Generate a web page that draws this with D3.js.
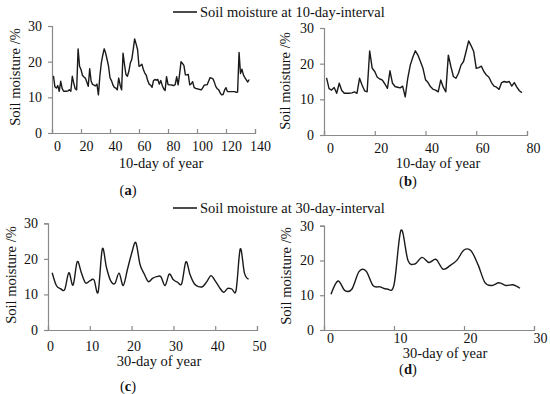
<!DOCTYPE html>
<html><head><meta charset="utf-8">
<script src="https://cdn.jsdelivr.net/npm/d3@7/dist/d3.min.js"></script>
<style>body{margin:0;background:#fff}svg{display:block}text{font-family:"Liberation Serif","Times New Roman",serif;fill:#111}</style>
</head><body><svg id="c" width="550" height="394"></svg>
<script>
// 10-day interval series (panel a: full record, panel b: first part)
const tenDayA = [16.0,13.0,12.6,13.3,11.7,14.5,12.5,11.7,11.7,11.7,11.8,12.1,11.7,15.9,14.0,12.4,12.1,23.6,18.7,17.8,
16.2,15.7,15.4,14.3,13.1,18.0,14.5,13.6,13.4,13.2,13.7,10.7,15.9,19.6,21.8,23.6,22.4,20.6,18.7,15.5,
14.7,13.5,12.8,12.6,12.1,15.4,13.4,12.1,22.4,19.2,16.4,15.9,17.3,19.6,20.6,23.4,26.4,25.0,23.4,18.7,
18.9,19.3,17.8,16.8,16.2,14.7,13.7,13.4,12.8,14.7,15.0,14.8,15.0,13.7,14.7,13.4,12.4,11.9,15.8,13.6,
13.5,13.5,13.4,13.3,13.6,15.8,13.5,16.5,20.0,19.5,18.9,16.3,16.3,16.4,13.5,13.8,14.4,12.8,12.5,12.4,
12.3,12.2,12.1,12.7,13.4,13.5,13.5,14.5,15.5,15.4,15.2,14.2,13.0,12.4,12.1,11.2,10.7,10.8,12.0,12.7,
11.6,11.6,11.6,11.6,11.6,11.6,11.4,11.5,22.6,16.7,17.9,16.3,15.5,14.9,14.3,15.0];
const tenDayB = [16.0,13.0,12.6,13.3,11.7,14.5,12.5,11.7,11.7,11.7,11.8,12.1,11.7,15.9,14.0,12.4,12.1,23.6,18.7,17.8,
16.2,15.7,15.4,14.3,13.1,18.0,14.5,13.6,13.4,13.2,13.7,10.7,15.9,19.6,21.8,23.6,22.4,20.6,18.7,15.5,
14.7,13.5,12.8,12.6,12.1,15.4,13.4,12.1,22.4,19.2,16.4,15.9,17.3,19.6,20.6,23.4,26.4,25.0,23.4,18.7,
18.9,19.3,17.8,16.8,16.2,14.7,13.7,13.4,12.8,14.7,15.0,14.8,15.0,13.7,14.7,13.4,12.4,11.9];
// 30-day interval series
const thirtyDayC = [16.1,12.5,11.6,11.4,16.1,12.6,19.2,16.0,13.2,13.8,14.1,10.7,22.8,17.5,13.8,13.1,16.0,12.5,17.0,21.5,
24.6,18.5,15.8,13.6,14.5,15.0,15.0,12.5,15.7,14.1,13.4,13.1,19.2,15.5,13.0,12.2,12.2,13.6,15.3,13.8,
12.0,10.6,11.7,11.5,11.2,22.8,16.0,14.3];
const thirtyDayD = [10.3,14.1,11.3,11.8,16.8,17.0,12.8,12.4,11.8,13.0,28.7,20.0,19.0,20.9,19.4,20.3,17.5,18.5,20.1,23.0,
22.8,18.8,13.6,12.8,13.6,12.8,13.0,12.0];
// ticks and labels
const ticksA = [0,20,40,60,80,100,120,140];
const ticksB = [0,20,40,60,80];
const ticksC = [0,10,20,30,40,50];
const ticksD = [0,10,20,30];
const yTicks = [0,10,20,30];
const xTitle10 = "10-day of year", xTitle30 = "30-day of year";
const yTitle = "Soil moisture /%";
const legend10 = "Soil moisture at 10-day-interval", legend30 = "Soil moisture at 30-day-interval";

const svg = d3.select("#c");
const axisCol = "#8a8a8a";
const FS = "14.5px", TFS = "14px";

function panel(o){
  const x = d3.scaleLinear().domain(o.xd).range(o.xr);
  const y = d3.scaleLinear().domain([0,30]).range(o.yr);
  const g = svg.append("g");
  const ya = g.append("g").attr("transform",`translate(${o.xr[0]},0)`)
    .call(d3.axisLeft(y).tickValues(yTicks).tickSize(4).tickPadding(6));
  const xa = g.append("g").attr("transform",`translate(0,${o.yr[0]})`)
    .call(d3.axisBottom(x).tickValues(o.ticks).tickSize(-4).tickPadding(o.tp));
  [ya,xa].forEach(a=>{
    a.attr("font-family","Liberation Serif, serif");
    a.select(".domain").attr("stroke",axisCol).attr("stroke-width",1.2);
    a.selectAll(".tick line").attr("stroke",axisCol).attr("stroke-width",1.2);
    a.selectAll("text").style("font-size",TFS).attr("fill","#111");
  });
  xa.selectAll(".tick text").attr("dx", o.ldx);
  const line = d3.line().x((d,i)=>x(i+1)).y(d=>y(d)).curve(o.curve);
  g.append("path").datum(o.data).attr("d",line).attr("fill","none")
    .attr("stroke","#1a1a1a").attr("stroke-width",1.4).attr("stroke-linejoin","round");
  g.append("text").attr("x",o.xt[0]).attr("y",o.xt[1]).attr("text-anchor","middle")
    .style("font-size",FS).text(o.xtitle);
  g.append("text").attr("transform",`translate(${o.yt[0]},${o.yt[1]}) rotate(-90)`)
    .attr("text-anchor","middle").style("font-size",FS).text(yTitle);
  const t = g.append("text").attr("x",o.lab[0]).attr("y",o.lab[1]).attr("text-anchor","middle").style("font-size",FS);
  t.append("tspan").text("(");
  t.append("tspan").attr("font-weight","bold").text(o.letter);
  t.append("tspan").text(")");
}

panel({xd:[0,140],xr:[52,255],yr:[133,26],ticks:ticksA,data:tenDayA,curve:d3.curveLinear,ldx:5,tp:8,
  xt:[161,168],yt:[20,77],lab:[128,195],letter:"a",xtitle:xTitle10});
panel({xd:[0,80],xr:[324,527],yr:[135,28],ticks:ticksB,data:tenDayB,curve:d3.curveLinear,ldx:6,tp:8,
  xt:[438,168],yt:[290,81],lab:[408,186],letter:"b",xtitle:xTitle10});
panel({xd:[0,50],xr:[48,257],yr:[330,223.3],ticks:ticksC,data:thirtyDayC,curve:d3.curveCardinal.tension(0),ldx:2,tp:11,
  xt:[159,366],yt:[16,275],lab:[128,391],letter:"c",xtitle:xTitle30});
panel({xd:[0,30],xr:[324,534],yr:[330,225.7],ticks:ticksD,data:thirtyDayD,curve:d3.curveCardinal.tension(0),ldx:6,tp:3,
  xt:[445,358],yt:[291,276],lab:[408,374],letter:"d",xtitle:xTitle30});

function legend(y, label){
  svg.append("line").attr("x1",173).attr("x2",197).attr("y1",y).attr("y2",y).attr("stroke","#111").attr("stroke-width",1.5);
  svg.append("text").attr("x",200).attr("y",y+4.5).style("font-size",FS).text(label);
}
legend(12, legend10);
legend(208, legend30);
</script></body></html>
